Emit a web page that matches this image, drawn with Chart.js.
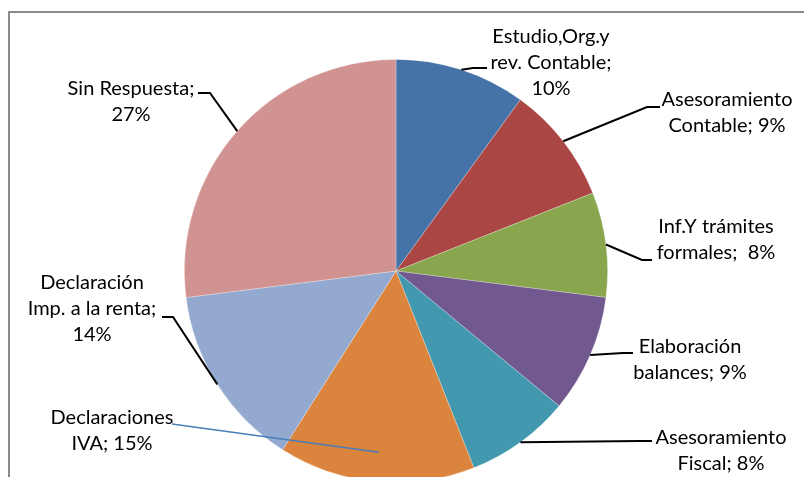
<!DOCTYPE html>
<html lang="es">
<head>
  <meta charset="UTF-8" />
  <title>Servicios</title>
  <script src="https://cdn.jsdelivr.net/npm/chart.js"></script>
  <style>
    html, body { margin: 0; padding: 0; background: #fff; overflow: hidden; }
    #wrap { position: relative; width: 804px; height: 490px; }
  </style>
</head>
<body>
  <div id="wrap"><canvas id="pie"></canvas></div>

  <script>
    const categories = [
      "Estudio,Org.y rev. Contable",
      "Asesoramiento Contable",
      "Inf.Y trámites formales",
      "Elaboración balances",
      "Asesoramiento Fiscal",
      "Declaraciones IVA",
      "Declaración Imp. a la renta",
      "Sin Respuesta"
    ];
    const values = [10, 9, 8, 9, 8, 15, 14, 27];
    const colors = ["#4572A7", "#AA4643", "#89A54E", "#71588F", "#4198AF", "#DB843D", "#93A9CF", "#D19392"];

    // label text, {v} gets the value
    const labelLines = [
      ["Estudio,Org.y", "rev. Contable;", "{v}%"],
      ["Asesoramiento", "Contable; {v}%"],
      ["Inf.Y trámites", "formales;  {v}%"],
      ["Elaboración", "balances; {v}%"],
      ["Asesoramiento", "Fiscal; {v}%"],
      ["Declaraciones", "IVA; {v}%"],
      ["Declaración", "Imp. a la renta;", "{v}%"],
      ["Sin Respuesta;", "{v}%"]
    ];

    // label placement relative to pie centre: text centre, elbow, line end
    const labelLayout = [
      { tx: 155, ty: -234, ex: 77, ey: -203, lx: 91, ly: -203 },
      { tx: 331, ty: -171, ex: 251, ey: -164, lx: 264, ly: -164 },
      { tx: 320, ty: -44, ex: 246, ey: -11, lx: 256, ly: -11 },
      { tx: 294, ty: 76, ex: 227, ey: 82, lx: 237, ly: 82 },
      { tx: 325, ty: 167, ex: 244, ey: 170, lx: 256, ly: 170 },
      { tx: -284, ty: 147, ex: null, ey: null, lx: -224, ly: 153, inner: 0.86, color: "#4a7ebb" },
      { tx: -304, ty: 12, ex: -223, ey: 46, lx: -234, ly: 46 },
      { tx: -265, ty: -182, ex: -186, ey: -178, lx: -198, ly: -178 }
    ];

    const FONT = "20px Lato, 'Open Sans', sans-serif";
    const LINE_H = 26;

    const frame = {
      id: "frame",
      beforeDraw(chart) {
        const c = chart.ctx;
        c.save();
        c.strokeStyle = "#8a8a8a";
        c.lineWidth = 2;
        c.beginPath();
        c.moveTo(9, 600);
        c.lineTo(9, 12);
        c.lineTo(900, 12);
        c.stroke();
        c.restore();
      }
    };

    const labels = {
      id: "labels",
      afterDatasetsDraw(chart) {
        const c = chart.ctx;
        const arcs = chart.getDatasetMeta(0).data;
        c.save();
        c.font = FONT;
        c.textAlign = "center";
        c.textBaseline = "middle";
        arcs.forEach((arc, i) => {
          const L = labelLayout[i];
          const cx = arc.x, cy = arc.y;
          const mid = (arc.startAngle + arc.endAngle) / 2;
          const r = arc.outerRadius * (L.inner || 1);
          const px = cx + r * Math.cos(mid);
          const py = cy + r * Math.sin(mid);

          c.strokeStyle = L.color || "#000";
          c.lineWidth = L.color ? 1.5 : 2;
          c.beginPath();
          c.moveTo(px, py);
          if (L.ex !== null) c.lineTo(cx + L.ex, cy + L.ey);
          c.lineTo(cx + L.lx, cy + L.ly);
          c.stroke();

          c.fillStyle = "#000";
          labelLines[i].forEach((t, k) => {
            c.fillText(t.replace("{v}", values[i]), cx + L.tx, cy + L.ty + k * LINE_H);
          });
        });
        c.restore();
      }
    };

    new Chart(document.getElementById("pie"), {
      type: "pie",
      data: {
        labels: categories,
        datasets: [{
          data: values,
          backgroundColor: colors,
          borderColor: "rgba(255,255,255,0.35)",
          borderWidth: 0.75
        }]
      },
      options: {
        responsive: true,
        maintainAspectRatio: false,
        animation: false,
        layout: { padding: { top: 59, bottom: 7, left: 184, right: 196 } },
        plugins: {
          legend: { display: false },
          tooltip: { enabled: false }
        }
      },
      plugins: [frame, labels]
    });
  </script>
</body>
</html>
